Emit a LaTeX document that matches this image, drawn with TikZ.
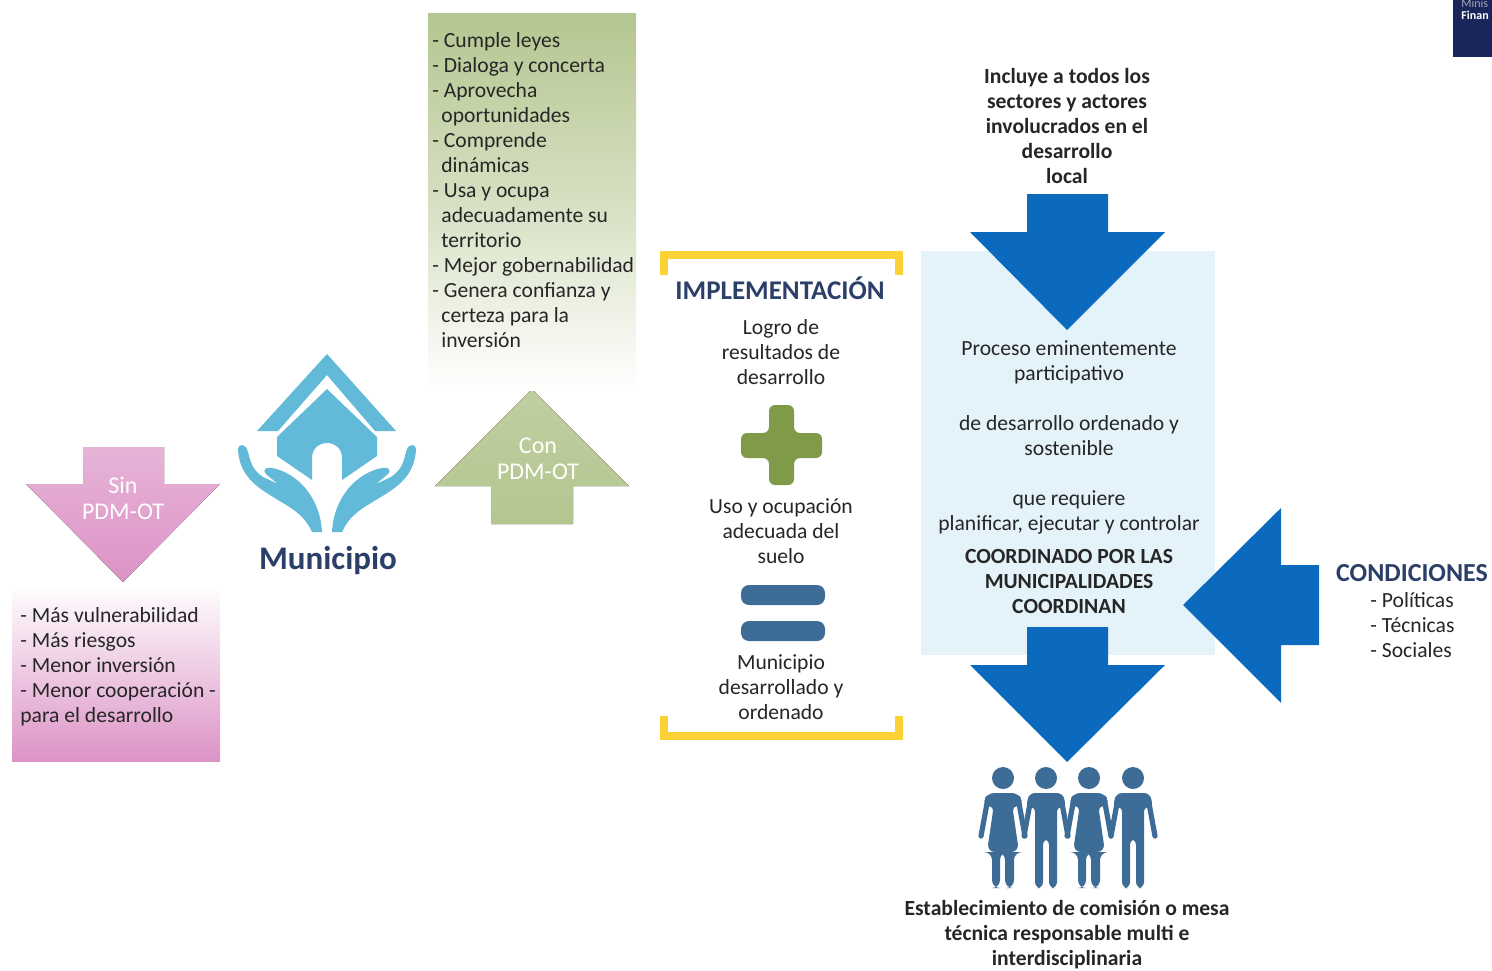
\documentclass[tikz,border=0pt]{standalone}
\usepackage{fontspec}
\setmainfont{Carlito}
\definecolor{bluearrow}{HTML}{0B69BE}
\definecolor{paleblue}{HTML}{E4F2FA}
\definecolor{housecol}{HTML}{62BAD8}
\definecolor{navycol}{HTML}{2B3F68}
\definecolor{peoplecol}{HTML}{3D6C96}
\definecolor{greencol}{HTML}{B4C690}
\definecolor{plusgreen}{HTML}{7F9B4A}
\definecolor{pinkcol}{HTML}{DC93C6}
\definecolor{yellowcol}{HTML}{FBD235}
\definecolor{logocol}{HTML}{1A2659}
\tikzset{
  txt/.style={align=center,inner sep=0pt,text=black!85,font=\fontsize{10.8}{12.5}\selectfont},
  listtxt/.style={txt,align=left,anchor=west},
  boldtxt/.style={txt,font=\fontsize{10.8}{12.5}\selectfont\bfseries},
  arrowtxt/.style={txt,text=white,font=\fontsize{12}{13}\selectfont},
  bracket/.style={draw=yellowcol,line width=4pt,miter limit=10},
  woman/.pic={
    \fill[peoplecol] (0,0) circle (11);
    \fill[peoplecol,rounded corners=4] (-17,15) -- (17,15) -- (20,30) -- (9,26) -- (16,74) -- (11,74) -- (11,110) -- (2,110) -- (2,74) -- (-3,74) -- (-3,110) -- (-11,110) -- (-11,74) -- (-16,74) -- (-9,26) -- (-20,30) -- cycle;
    \draw[peoplecol,line width=2.6pt,line cap=round] (-15,20) -- (-22,58) (15,20) -- (22,58);
  },
  man/.pic={
    \fill[peoplecol] (0,0) circle (11);
    \fill[peoplecol,rounded corners=3] (-17,15) -- (17,15) -- (20,30) -- (11,28) -- (11,110) -- (3,110) -- (3,61) -- (-3,61) -- (-3,110) -- (-11,110) -- (-11,28) -- (-20,30) -- cycle;
    \draw[peoplecol,line width=2.6pt,line cap=round] (-15,20) -- (-22,58) (15,20) -- (22,58);
  },
}
\newcommand{\ind}{\hspace*{4.5pt}}
\begin{document}
\begin{tikzpicture}[x=0.5pt,y=-0.5pt]
    \useasboundingbox (0,0) rectangle (1492,970);
    \fill[white] (0,0) rectangle (1492,970);

    % Logo
    \begin{scope}
      \clip (0,0) rectangle (1492,970);
      \fill[logocol] (1453,0) rectangle (1492,57);
      \node[anchor=west,inner sep=0pt,text=white!60!logocol,font=\fontsize{6}{6}\selectfont] (logoa) at (1461,3) {Minis};
      \node[anchor=west,inner sep=0pt,text=white,font=\fontsize{6}{6}\selectfont\bfseries] (logob) at (1461,15) {Finan};
    \end{scope}

    % Sin PDM-OT
    \fill[top color=pinkcol!70,bottom color=pinkcol] (83,447) -- (164,447) -- (164,484) -- (220,484) -- (123,582) -- (26,484) -- (83,484) -- cycle;
    \node[arrowtxt] (sin) at (123,498) {Sin\\PDM-OT};
    \fill[top color=white,bottom color=pinkcol] (12,585) rectangle (220,761);
    \node[listtxt] (sinlist) at (20,666.5) {- Más vulnerabilidad\\- Más riesgos\\- Menor inversión\\- Menor cooperación -\\para el desarrollo};

    % Municipio
    \fill[housecol] (327,354) -- (396,431) -- (375,431) -- (327,375) -- (278,431) -- (257,431) -- cycle;
    \fill[housecol] (327,389) -- (377,437) -- (377,456) -- (342,480) -- (342,458) .. controls (342,438) and (312,438) .. (312,458) -- (312,480) -- (277,456) -- (277,437) -- cycle;
    \foreach \s/\o in {1/0,-1/654}{
      \fill[housecol,shift={(\o,0)},xscale=\s] (238,450) .. controls (238,443) and (246,443) .. (248,452)
        .. controls (251,464) and (253,470) .. (263,477) -- (278,484) -- (266,474)
        .. controls (262,469) and (266,467) .. (272,468)
        .. controls (295,472) and (320,495) .. (322,532) -- (312,532)
        .. controls (306,518) and (295,510) .. (283,503)
        .. controls (262,490) and (240,480) .. cycle;
    }
    \node[font=\fontsize{16.5}{18}\selectfont\bfseries,text=navycol,inner sep=0pt] (municipio) at (328,561) {Municipio};

    % Con PDM-OT
    \fill[top color=greencol!85,bottom color=greencol] (532,389) -- (629,486) -- (573,486) -- (573,524) -- (491,524) -- (491,486) -- (435,486) -- cycle;
    \node[arrowtxt] (con) at (538,459) {Con\\PDM-OT};
    \fill[top color=greencol,bottom color=white,middle color=greencol!55] (428,13) rectangle (636,390);
    \node[listtxt] (conlist) at (432,190) {- Cumple leyes\\- Dialoga y concerta\\- Aprovecha\\\ind oportunidades\\- Comprende\\\ind dinámicas\\- Usa y ocupa\\\ind adecuadamente su\\\ind territorio\\- Mejor gobernabilidad\\- Genera confianza y\\\ind certeza para la\\\ind inversión};

    % Implementacion
    \draw[bracket] (664,275) -- (664,255) -- (899,255) -- (899,275);
    \draw[bracket] (664,716) -- (664,736) -- (899,736) -- (899,716);
    \node[font=\fontsize{13.5}{15}\selectfont\bfseries,text=navycol,inner sep=0pt] (impl) at (780,288) {IMPLEMENTACIÓN};
    \node[txt] (logro) at (781,352) {Logro de\\resultados de\\desarrollo};
    \fill[plusgreen,rounded corners=3] (769,405) -- (794,405) -- (794,433) -- (822,433) -- (822,458) -- (794,458) -- (794,485) -- (769,485) -- (769,458) -- (741,458) -- (741,433) -- (769,433) -- cycle;
    \node[txt] (uso) at (781,531) {Uso y ocupación\\adecuada del\\suelo};
    \fill[peoplecol,rounded corners=4] (741,585) rectangle (825,605);
    \fill[peoplecol,rounded corners=4] (741,621) rectangle (825,641);
    \node[txt] (desarrollado) at (781,687) {Municipio\\desarrollado y\\ordenado};

    % Proceso
    \node[boldtxt] (incluye) at (1067,126) {Incluye a todos los\\sectores y actores\\involucrados en el\\desarrollo\\local};
    \fill[paleblue] (921,251) rectangle (1215,655);
    \fill[bluearrow] (1027,194) -- (1108,194) -- (1108,232) -- (1165,232) -- (1067,330) -- (970,232) -- (1027,232) -- cycle;
    \node[txt] (proceso) at (1069,437) {Proceso eminentemente\\participativo\\[12.5pt]de desarrollo ordenado y\\sostenible\\[12.5pt]que requiere\\planificar, ejecutar y controlar};
    \node[boldtxt] (coordinado) at (1069,581) {COORDINADO POR LAS\\MUNICIPALIDADES\\COORDINAN};
    \fill[bluearrow] (1027,627) -- (1108,627) -- (1108,665) -- (1165,665) -- (1067,762) -- (970,665) -- (1027,665) -- cycle;

    % Condiciones
    \fill[bluearrow] (1183,605) -- (1281,508) -- (1281,565) -- (1319,565) -- (1319,645) -- (1281,645) -- (1281,703) -- cycle;
    \node[font=\fontsize{13}{15}\selectfont\bfseries,text=navycol,inner sep=0pt] (condiciones) at (1412,573) {CONDICIONES};
    \node[listtxt] (condlist) at (1370,625) {- Políticas\\- Técnicas\\- Sociales};

    % Personas
    \pic at (1003,778) {woman};
    \pic at (1046,778) {man};
    \pic at (1089,778) {woman};
    \pic at (1133,778) {man};
    \node[boldtxt] (comision) at (1067,935) {Establecimiento de comisión o mesa\\técnica responsable multi e\\interdisciplinaria};
\end{tikzpicture}
\end{document}
